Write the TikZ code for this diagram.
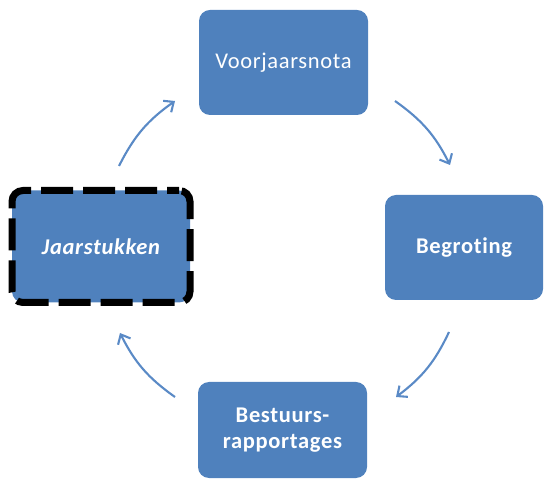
\documentclass[tikz,border=0pt]{standalone}
\usepackage{fontspec}
\setmainfont{Carlito}[Ligatures=NoCommon, LetterSpace=3]
\usetikzlibrary{arrows.meta}
\definecolor{boxblue}{HTML}{4F81BD}
\definecolor{arrblue}{HTML}{5A8AC6}
\begin{document}
\begin{tikzpicture}[x=1pt,y=1pt,
  box/.style={rectangle, rounded corners=11pt, fill=boxblue, inner sep=0pt,
    text=white, font=\fontsize{22.5}{26}\selectfont, align=center},
  arr/.style={draw=arrblue, line width=2.1pt,
    -{Straight Barb[length=8pt,width=14pt,line width=2.1pt]}}]
\useasboundingbox (0,0) rectangle (545,481);
\node[box, minimum width=169pt, minimum height=105pt] (v) at (283.5,418.5) {Voorjaarsnota};
\node[box, minimum width=158pt, minimum height=105pt] (b) at (464,233.5) {\bfseries Begroting};
\node[box, minimum width=169pt, minimum height=96pt] (r) at (282.5,51) {\bfseries Bestuurs-\\\bfseries rapportages};
\node[box, minimum width=178pt, minimum height=112pt, draw=black, line width=7pt,
  dash pattern=on 32pt off 10pt, dash phase=20pt] (j) at (101,234.5) {\bfseries\itshape Jaarstukken};
\coordinate (a1s) at (119,315); \coordinate (a1e) at (175,380);
\coordinate (a2s) at (395,380); \coordinate (a2e) at (450,316);
\coordinate (a3s) at (449,149); \coordinate (a3e) at (396,84);
\coordinate (a4s) at (175,84);  \coordinate (a4e) at (120,148);
\draw[arr] (a1s) to[bend left=14] (a1e);
\draw[arr] (a2s) to[bend left=14] (a2e);
\draw[arr] (a3s) to[bend left=14] (a3e);
\draw[arr] (a4s) to[bend left=14] (a4e);
\end{tikzpicture}
\end{document}
